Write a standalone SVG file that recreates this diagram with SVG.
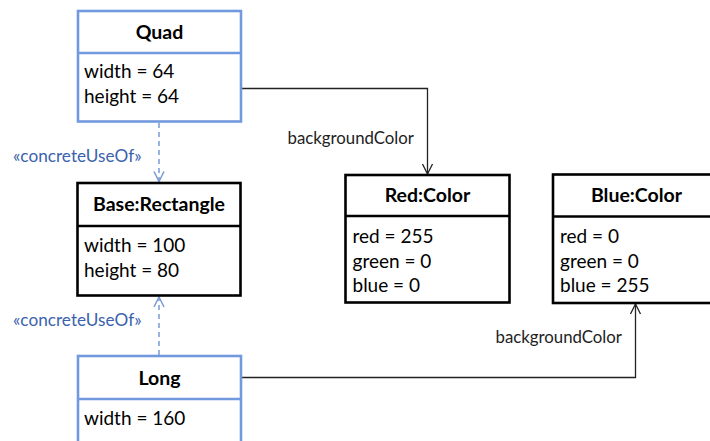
<svg xmlns="http://www.w3.org/2000/svg" width="710" height="441" viewBox="0 0 710 441">
<style>
text{font-family:Lato,"Open Sans","Liberation Sans",sans-serif;fill:#000}
.t{font-weight:bold;font-size:19.5px;text-anchor:middle}
.a{font-size:19px}
.lbl{font-size:16.8px;fill:#222}
.st{font-size:17.2px;fill:#3a62ad}
.bb{fill:#fff;stroke:#7299dd;stroke-width:2.6}
.kb{fill:#fff;stroke:#000;stroke-width:2.6}
.bl{stroke:#7299dd;stroke-width:2.6}
.kl{stroke:#000;stroke-width:2.6}
.conn{fill:none;stroke:#222;stroke-width:1.3}
.dash{fill:none;stroke:#7a9ad6;stroke-width:1.5;stroke-dasharray:5,4}
</style>
<defs>
<marker id="ah" viewBox="0 0 12 12" refX="11" refY="6" markerWidth="12" markerHeight="12" markerUnits="userSpaceOnUse" orient="auto"><path d="M1,1 L11,6 L1,11" fill="none" stroke="#222" stroke-width="1.3"/></marker>
<marker id="ahb" viewBox="0 0 12 12" refX="11" refY="6" markerWidth="12" markerHeight="12" markerUnits="userSpaceOnUse" orient="auto"><path d="M1,1 L11,6 L1,11" fill="none" stroke="#7a9ad6" stroke-width="1.5"/></marker>
</defs>
<g id="connectors">
<path class="conn" d="M241,88.5 H427.5 V174" marker-end="url(#ah)"/>
<text class="lbl" x="287.5" y="144">backgroundColor</text>
<path class="conn" d="M241,377.5 H635.5 V304" marker-end="url(#ah)"/>
<text class="lbl" x="495.5" y="343">backgroundColor</text>
<path class="dash" d="M159,123 V181.5" marker-end="url(#ahb)"/>
<text class="st" x="13" y="162">«concreteUseOf»</text>
<path class="dash" d="M159,355 V297" marker-end="url(#ahb)"/>
<text class="st" x="13" y="326">«concreteUseOf»</text>
</g>
<g id="quad">
<rect class="bb" x="78" y="11" width="163" height="110.5"/>
<line class="bl" x1="78" y1="53" x2="241" y2="53"/>
<text class="t" x="159.5" y="39">Quad</text>
<text class="a" x="84" y="78">width = 64</text>
<text class="a" x="84" y="103">height = 64</text>
</g>
<g id="base">
<rect class="kb" x="77.5" y="183" width="163" height="112.5"/>
<line class="kl" x1="77.5" y1="226" x2="240.5" y2="226"/>
<text class="t" x="159" y="211">Base:Rectangle</text>
<text class="a" x="84" y="251.5">width = 100</text>
<text class="a" x="84" y="276.5">height = 80</text>
</g>
<g id="long">
<rect class="bb" x="78" y="356" width="163" height="100"/>
<line class="bl" x1="78" y1="399" x2="241" y2="399"/>
<text class="t" x="159.5" y="385">Long</text>
<text class="a" x="84" y="425">width = 160</text>
</g>
<g id="red">
<rect class="kb" x="345.5" y="175" width="164" height="127.5"/>
<line class="kl" x1="345.5" y1="216" x2="509.5" y2="216"/>
<text class="t" x="427.5" y="202">Red:Color</text>
<text class="a" x="352.5" y="243">red = 255</text>
<text class="a" x="352.5" y="267.5">green = 0</text>
<text class="a" x="352.5" y="292">blue = 0</text>
</g>
<g id="blue">
<rect class="kb" x="553" y="174.5" width="164" height="128.5"/>
<line class="kl" x1="553" y1="216.5" x2="717" y2="216.5"/>
<text class="t" x="636.5" y="202">Blue:Color</text>
<text class="a" x="560" y="243">red = 0</text>
<text class="a" x="560" y="267.5">green = 0</text>
<text class="a" x="560" y="292">blue = 255</text>
</g>
</svg>
